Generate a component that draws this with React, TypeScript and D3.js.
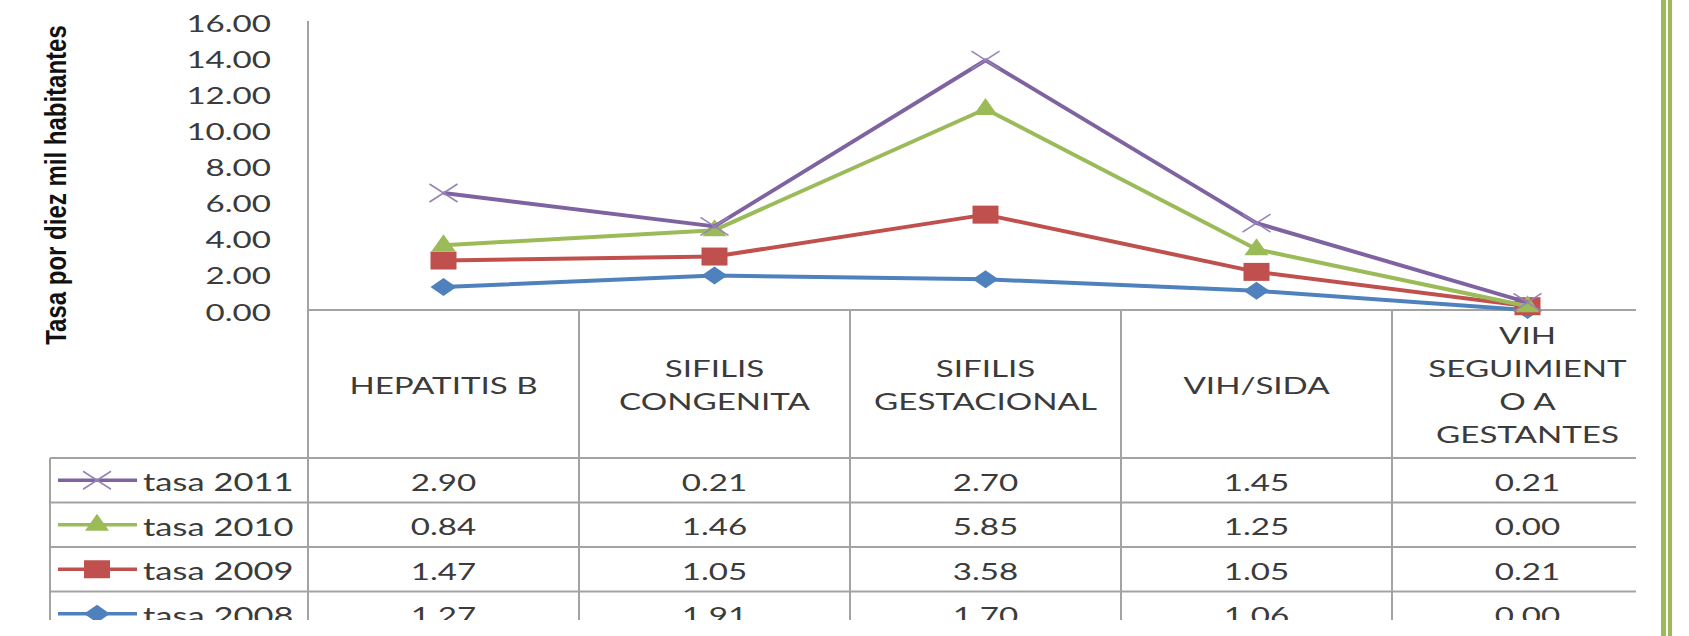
import React from 'react'
import * as d3 from 'd3'

const categories = ['HEPATITIS B', 'SIFILIS CONGENITA', 'SIFILIS GESTACIONAL', 'VIH/SIDA', 'VIH SEGUIMIENTO A GESTANTES']
const categoryLines = [
    ['HEPATITIS B'],
    ['SIFILIS', 'CONGENITA'],
    ['SIFILIS', 'GESTACIONAL'],
    ['VIH/SIDA'],
    ['VIH', 'SEGUIMIENT', 'O A', 'GESTANTES'],
]
const seriesNames = ['tasa 2008', 'tasa 2009', 'tasa 2010', 'tasa 2011']
const tasa2008 = [1.27, 1.91, 1.70, 1.06, 0.00]
const tasa2009 = [1.47, 1.05, 3.58, 1.05, 0.21]
const tasa2010 = [0.84, 1.46, 5.85, 1.25, 0.00]
const tasa2011 = [2.90, 0.21, 2.70, 1.45, 0.21]
const yTicks = [0, 2, 4, 6, 8, 10, 12, 14, 16]

const seriesValues = [tasa2008, tasa2009, tasa2010, tasa2011]
const seriesColors = ['#4F81BD', '#C0504D', '#9BBB59', '#7F63A1']

const W = 1689
const H = 636
const SX = 1.38
const axisX = 308
const colW = 271
const baseY = 310
const headerBottom = 458
const rowH = 44.5
const cutX = 1636
const cutY = 620
const textColor = '#3b3b3b'
const gridColor = '#a3a3a3'
const font = 'Lato, "Open Sans", sans-serif'

function Marker({ k, cx, cy }: { k: number, cx: number, cy: number }) {
    const c = seriesColors[k]
    if (k === 0) {
        return <path d={`M${cx - 13},${cy} L${cx},${cy - 9} L${cx + 13},${cy} L${cx},${cy + 9} Z`} fill={c} />
    }
    if (k === 1) {
        return <rect x={cx - 13} y={cy - 9} width={26} height={18} fill={c} />
    }
    if (k === 2) {
        return <path d={`M${cx - 12},${cy + 6} L${cx},${cy - 11} L${cx + 12},${cy + 6} Z`} fill={c} />
    }
    return (
        <g stroke="#9683b6" strokeWidth={1.6}>
            <line x1={cx - 14} y1={cy - 9} x2={cx + 14} y2={cy + 9} />
            <line x1={cx - 14} y1={cy + 9} x2={cx + 14} y2={cy - 9} />
        </g>
    )
}

function SText({ x, y, anchor, children, size = 24 }: { x: number, y: number, anchor: string, children: any, size?: number }) {
    return (
        <text transform={`translate(${x},${y}) scale(${SX},1)`} textAnchor={anchor} dominantBaseline="central"
            fontFamily={font} fontSize={size} fill={textColor}>{children}</text>
    )
}

export default function App() {
    const x = d3.scaleBand<string>().domain(categories).range([axisX, axisX + colW * categories.length]).padding(0)
    const cx = (i: number) => (x(categories[i]) as number) + x.bandwidth() / 2
    const y = d3.scaleLinear().domain([0, 16]).range([baseY, 21])

    const rows = categories.map((c, i) => {
        const r: any = { cat: c }
        seriesNames.forEach((s, k) => { r[s] = seriesValues[k][i] })
        return r
    })
    const stacked = d3.stack().keys(seriesNames)(rows)

    const line = d3.line<[number, number]>()
        .x((_, i) => cx(i))
        .y(d => y(d[1]))

    const tableRows = [3, 2, 1, 0]
    const rowCenter = (r: number) => headerBottom + r * rowH + rowH / 2

    return (
        <svg width={W} height={H} style={{ position: 'absolute', left: 0, top: 0, background: '#fff' }}>
            <defs>
                <clipPath id="cut">
                    <rect x={0} y={0} width={cutX} height={cutY} />
                </clipPath>
            </defs>
            <g clipPath="url(#cut)">
                {/* y axis title */}
                <text transform="translate(56,185) scale(1.2,1) rotate(-90)" textAnchor="middle" dominantBaseline="central"
                    fontFamily='"Liberation Sans Narrow", "Liberation Sans", sans-serif' fontWeight="bold" fontSize={24} fill="#111">
                    Tasa por diez mil habitantes
                </text>

                {/* y tick labels */}
                {yTicks.map(t => (
                    <SText key={t} x={271} y={y(t) + 1} anchor="end">{t.toFixed(2)}</SText>
                ))}

                {/* axis and table grid */}
                <g stroke={gridColor} strokeWidth={2} fill="none">
                    <line x1={axisX} y1={21} x2={axisX} y2={cutY} />
                    <line x1={axisX} y1={baseY} x2={cutX} y2={baseY} />
                    {categories.map((c, i) => i > 0 && (
                        <line key={c} x1={x(c)} y1={baseY} x2={x(c)} y2={cutY} />
                    ))}
                    <line x1={50} y1={headerBottom} x2={50} y2={cutY} />
                    {tableRows.map((k, r) => (
                        <line key={k} x1={50} y1={headerBottom + r * rowH} x2={cutX} y2={headerBottom + r * rowH} />
                    ))}
                </g>

                {/* category headers */}
                {categoryLines.map((lines, i) => lines.map((l, j) => (
                    <SText key={i + '-' + j} x={cx(i)} y={384 + (j - (lines.length - 1) / 2) * 33} anchor="middle" size={24}>{l}</SText>
                )))}

                {/* data table */}
                {tableRows.map((k, r) => (
                    <g key={k}>
                        <line x1={58} x2={137} y1={rowCenter(r)} y2={rowCenter(r)} stroke={seriesColors[k]} strokeWidth={3.5} />
                        <Marker k={k} cx={97} cy={rowCenter(r)} />
                        <SText x={143} y={rowCenter(r) + 1} anchor="start" size={25}>{seriesNames[k]}</SText>
                        {seriesValues[k].map((v, i) => (
                            <SText key={i} x={cx(i)} y={rowCenter(r) + 1} anchor="middle">{v.toFixed(2)}</SText>
                        ))}
                    </g>
                ))}

                {/* stacked lines */}
                {stacked.map((s, k) => (
                    <g key={k}>
                        <path d={line(s as any) as string} fill="none" stroke={seriesColors[k]} strokeWidth={4} strokeLinejoin="round" />
                        {s.map((d, i) => <Marker key={i} k={k} cx={cx(i)} cy={y(d[1])} />)}
                    </g>
                ))}
            </g>

            {/* page border */}
            <rect x={1661} y={0} width={5} height={H} fill="#9BBB59" />
            <rect x={1668} y={0} width={4} height={H} fill="#9BBB59" />
        </svg>
    )
}
